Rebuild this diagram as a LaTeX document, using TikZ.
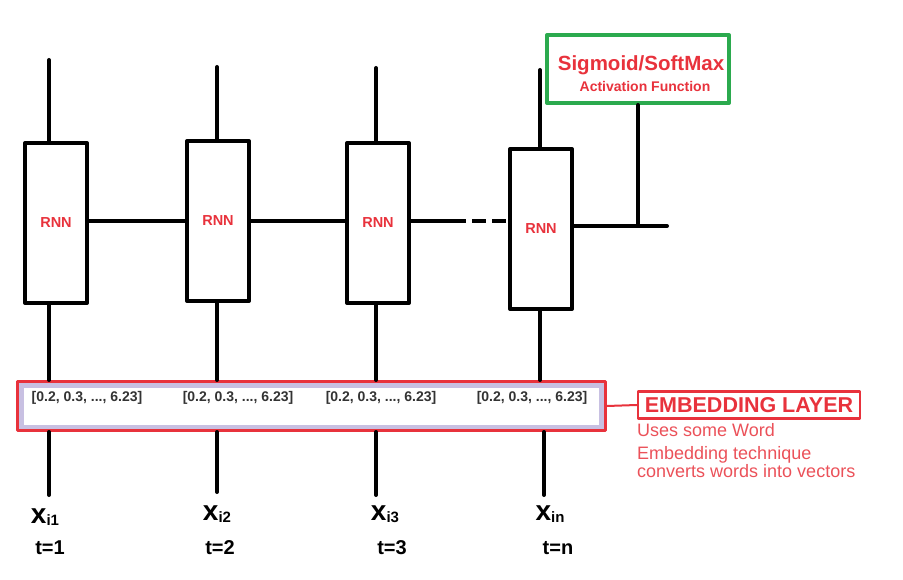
\documentclass[tikz,border=0pt]{standalone}
\usepackage{fontspec}
\setmainfont{Liberation Sans}
\definecolor{rnnred}{HTML}{E8323C}
\definecolor{actgreen}{HTML}{2BAA4E}
\definecolor{lavender}{HTML}{C8C0E2}
\definecolor{vecgray}{HTML}{333333}
\begin{document}
\begin{tikzpicture}[line cap=round, line join=round, x=1pt, y=-1pt,
    rnn/.style={draw=black, line width=4pt, minimum width=62pt, minimum height=160pt, inner sep=0pt,
      text=rnnred, font=\fontsize{14.5}{14.5}\selectfont\bfseries},
    link/.style={line width=4pt},
    vec/.style={text=vecgray, font=\fontsize{14}{14}\selectfont\bfseries, inner sep=0pt},
    xin/.style={inner sep=0pt, font=\bfseries},
    tstep/.style={inner sep=0pt, font=\fontsize{20}{20}\selectfont\bfseries}]
    \useasboundingbox (0,0) rectangle (903,580);
    % rnn cells
    \node[rnn] (r1) at (56,223) {RNN};
    \node[rnn] (r2) at (218,221) {RNN};
    \node[rnn] (r3) at (378,223) {RNN};
    \node[rnn] (r4) at (541,229) {RNN};
    % embedding layer
    \node[draw=rnnred, line width=3pt, fill=lavender, minimum width=588pt, minimum height=49pt, inner sep=0pt] (emb) at (311.5,406) {};
    \fill[white] (24,388) rectangle (599,425);
    \node[vec] (v1) at (87,398) {[0.2, 0.3, ..., 6.23]};
    \node[vec] (v2) at (238,398) {[0.2, 0.3, ..., 6.23]};
    \node[vec] (v3) at (381,398) {[0.2, 0.3, ..., 6.23]};
    \node[vec] (v4) at (532,398) {[0.2, 0.3, ..., 6.23]};
    % activation
    \node[draw=actgreen, line width=4pt, minimum width=182pt, minimum height=68pt, inner sep=0pt] (act) at (638,69) {};
    \node[inner sep=0pt, text=rnnred, font=\fontsize{20.5}{20.5}\selectfont\bfseries] (acttitle) at (641,65) {Sigmoid/SoftMax};
    \node[inner sep=0pt, text=rnnred, font=\fontsize{14}{14}\selectfont\bfseries] (actsub) at (645,86) {Activation Function};
    % column ends
    \coordinate (t1) at (49,60);
    \coordinate (t2) at (217,67);
    \coordinate (t3) at (376,68);
    \coordinate (t4) at (540,70);
    \coordinate (b1) at (49,495);
    \coordinate (b2) at (217,492);
    \coordinate (b3) at (376,495);
    \coordinate (b4) at (544,495);
    \coordinate (hline) at (0,221);
    \coordinate (dashstart) at (452,221);
    \coordinate (rend) at (667,226);
    \foreach \col in {1,2,3,4} {
        \draw[link] (t\col) -- (t\col |- r\col.north);
        \draw[link] (t\col |- r\col.south) -- (t\col |- emb.north);
        \draw[link] (b\col |- emb.south) -- (b\col);
    }
    % recurrent links
    \draw[link] (r1.east |- hline) -- (r2.west |- hline);
    \draw[link] (r2.east |- hline) -- (r3.west |- hline);
    \draw[link] (r3.east |- dashstart) -- (dashstart);
    \draw[link, line cap=butt, dash pattern=on 14pt off 6pt] (dashstart) -- (r4.west |- dashstart);
    \draw[link] (r4.east |- rend) -- (rend);
    \draw[link] (act.south) -- (act.south |- rend);
    % embedding label
    \node[draw=rnnred, line width=2.5pt, minimum width=222pt, minimum height=27pt, inner sep=0pt,
      text=rnnred, font=\fontsize{21.5}{21.5}\selectfont\bfseries] (emblabel) at (749,405) {EMBEDDING LAYER};
    \draw[rnnred, line width=2pt] (emb.east) -- (emblabel.west);
    \node[anchor=north west, inner sep=0pt, text=rnnred!85, font=\fontsize{18}{18}\selectfont] (usestxt)
      at (637,423) {Uses some Word};
    \node[anchor=north west, inner sep=0pt, align=left, text=rnnred!85, font=\fontsize{18}{15.5}\selectfont] (convtxt)
      at (637,446) {Embedding technique\\converts words into vectors};
    % inputs
    \foreach \name/\xx/\yy/\sub in {1/45/517/i1, 2/217/514/i2, 3/385/514/i3, 4/550/514/in} {
        \node[xin] (x\name) at (\xx,\yy) {\fontsize{28}{28}\selectfont x\fontsize{15}{15}\selectfont\raisebox{-2pt}{\sub}};
    }
    \foreach \name/\xx/\lab in {1/50/t=1, 2/220/t=2, 3/392/t=3, 4/558/t=n} {
        \node[tstep] (s\name) at (\xx,548) {\lab};
    }
\end{tikzpicture}
\end{document}
